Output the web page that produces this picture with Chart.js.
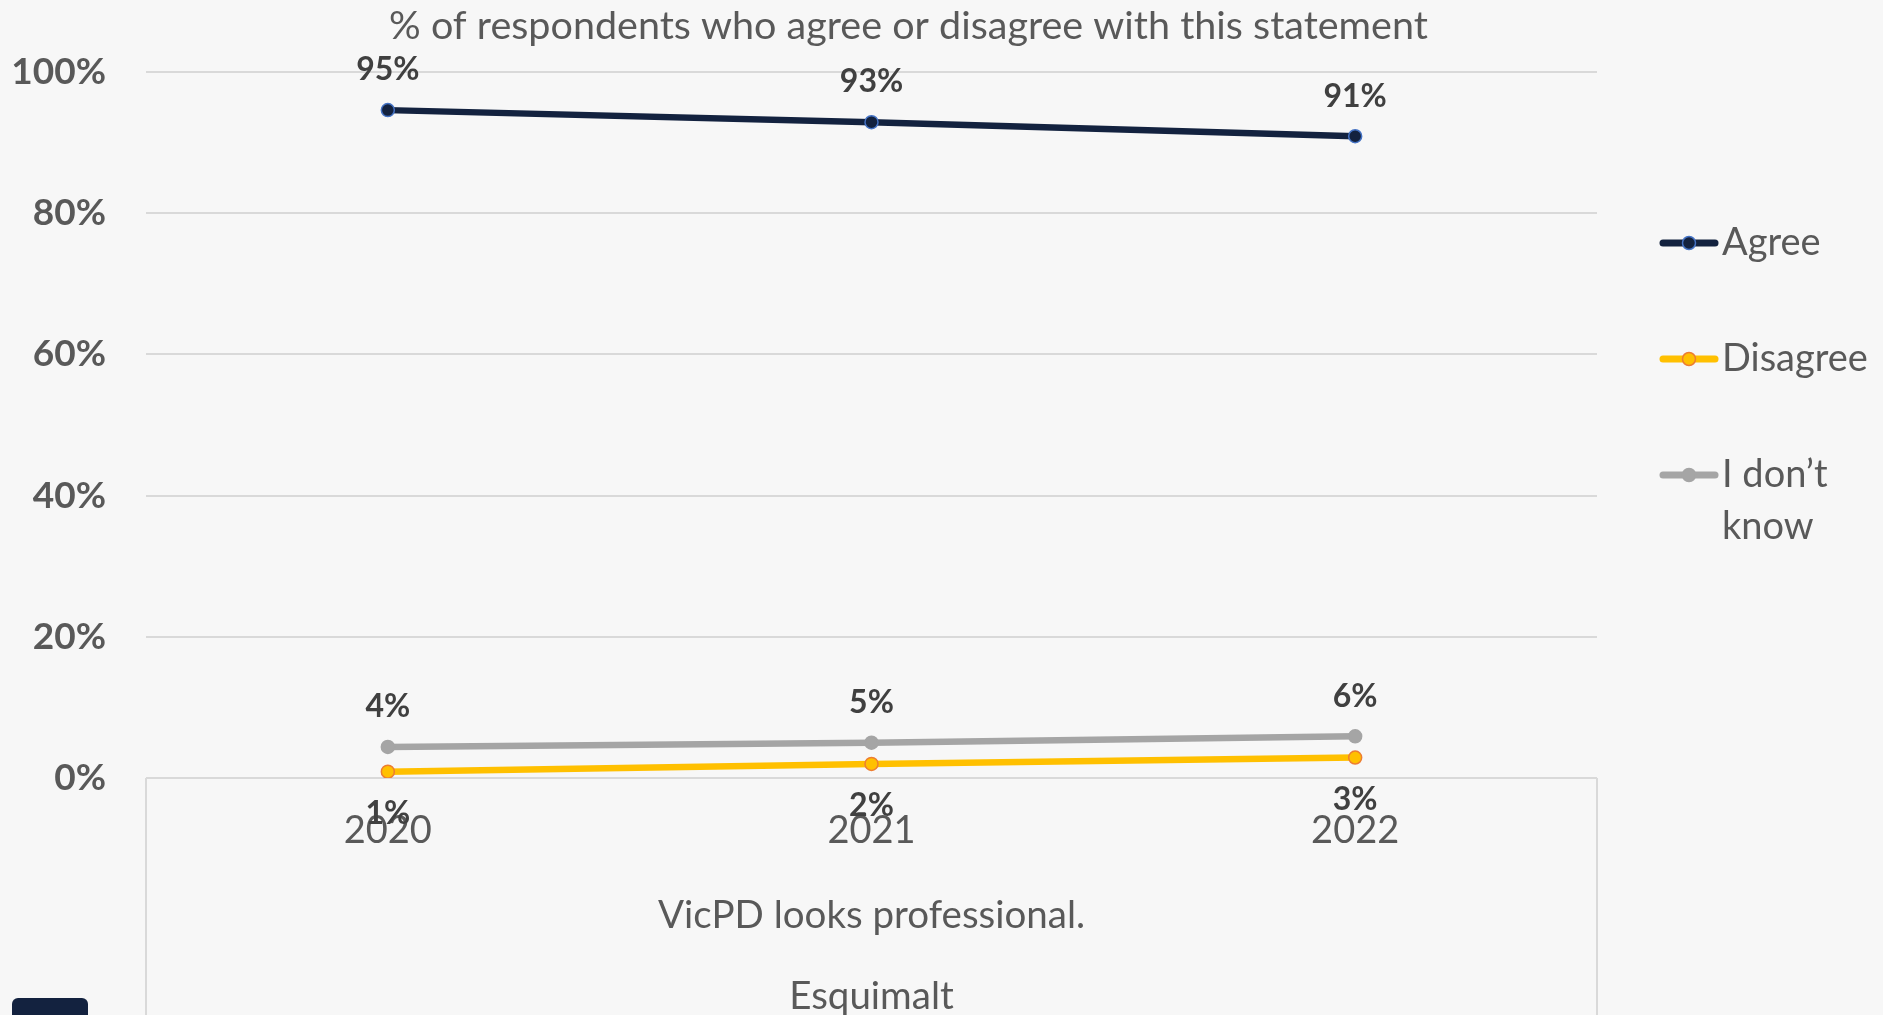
<!DOCTYPE html>
<html>
<head>
<meta charset="utf-8">
<script src="https://cdn.jsdelivr.net/npm/chart.js@4.4.1/dist/chart.umd.min.js"></script>
<style>
  html, body { margin: 0; padding: 0; background: #f7f7f7; overflow: hidden; }
  #wrap { position: relative; width: 1883px; height: 1040px; }
  #badge { position: absolute; left: 12px; top: 998px; width: 76px; height: 40px; background: #13223f; border-radius: 6px; }
</style>
</head>
<body>
<div id="wrap">
  <canvas id="chart" width="1883" height="1040"></canvas>
  <div id="badge"></div>
</div>
<script>
const years = ["2020", "2021", "2022"];
const agree = [94.6, 92.9, 90.9];
const disagree = [0.9, 2.0, 2.9];
const dontKnow = [4.4, 5.0, 5.9];
const seriesNames = ["Agree", "Disagree", "I don\u2019t know"];
const chartTitle = "% of respondents who agree or disagree with this statement";
const axisLines = ["VicPD looks professional.", "Esquimalt"];

const textGrey = "#595959";
const labelGrey = "#404040";
const gridGrey = "#d9d9d9";

// data labels, legend, title and the category group borders
const extras = {
  id: "extras",
  afterDatasetsDraw(chart) {
    const ctx = chart.ctx;
    ctx.save();
    ctx.font = "bold 32px Lato";
    ctx.fillStyle = labelGrey;
    ctx.textAlign = "center";
    ctx.textBaseline = "middle";
    chart.data.datasets.forEach((ds, i) => {
      const meta = chart.getDatasetMeta(i);
      meta.data.forEach((pt, j) => {
        const off = ds.labelBelow ? 42 : -40;
        ctx.fillText(Math.round(ds.data[j]) + "%", pt.x, pt.y + off);
      });
    });
    ctx.restore();
  },
  afterDraw(chart) {
    const ctx = chart.ctx;
    const area = chart.chartArea;
    ctx.save();

    // title
    ctx.font = "39.5px Lato";
    ctx.fillStyle = textGrey;
    ctx.textAlign = "center";
    ctx.textBaseline = "middle";
    ctx.fillText(chartTitle, chart.width / 2 - 33, 26);

    // group borders under the category axis
    ctx.strokeStyle = gridGrey;
    ctx.lineWidth = 2;
    [area.left, area.right].forEach((x) => {
      ctx.beginPath();
      ctx.moveTo(x, area.bottom);
      ctx.lineTo(x, chart.height);
      ctx.stroke();
    });

    // legend
    const lx = area.right + 66;
    const tx = lx + 59;
    const maxW = chart.width - tx - 8;
    let y = area.top + 171;
    ctx.font = "38px Lato";
    ctx.textAlign = "left";
    chart.data.datasets.forEach((ds) => {
      ctx.strokeStyle = ds.borderColor;
      ctx.lineWidth = 7;
      ctx.lineCap = "round";
      ctx.beginPath();
      ctx.moveTo(lx, y);
      ctx.lineTo(lx + 52, y);
      ctx.stroke();
      ctx.beginPath();
      ctx.arc(lx + 26, y, 6.5, 0, Math.PI * 2);
      ctx.fillStyle = ds.pointBackgroundColor;
      ctx.fill();
      ctx.lineWidth = 1.5;
      ctx.strokeStyle = ds.pointBorderColor;
      ctx.stroke();

      // wrap long names
      const words = ds.label.split(" ");
      const lines = [];
      let cur = "";
      words.forEach((w) => {
        const test = cur ? cur + " " + w : w;
        if (cur && ctx.measureText(test).width > maxW) {
          lines.push(cur);
          cur = w;
        } else {
          cur = test;
        }
      });
      lines.push(cur);
      ctx.fillStyle = textGrey;
      lines.forEach((ln, k) => ctx.fillText(ln, tx, y + k * 52));
      y += 116;
    });
    ctx.restore();
  }
};

const ctx = document.getElementById("chart");
const chart = new Chart(ctx, {
  type: "line",
  data: {
    labels: years,
    datasets: [
      {
        label: seriesNames[0],
        data: agree,
        borderColor: "#13223f",
        backgroundColor: "#13223f",
        pointBackgroundColor: "#13223f",
        pointBorderColor: "#4472c4",
        labelBelow: false
      },
      {
        label: seriesNames[1],
        data: disagree,
        borderColor: "#ffc000",
        backgroundColor: "#ffc000",
        pointBackgroundColor: "#ffc000",
        pointBorderColor: "#ed7d31",
        labelBelow: true
      },
      {
        label: seriesNames[2],
        data: dontKnow,
        borderColor: "#a5a5a5",
        backgroundColor: "#a5a5a5",
        pointBackgroundColor: "#a5a5a5",
        pointBorderColor: "#a5a5a5",
        labelBelow: false
      }
    ]
  },
  options: {
    responsive: false,
    animation: false,
    layout: { padding: { left: 12, right: 286, top: 72, bottom: 0 } },
    elements: {
      line: { borderWidth: 6.5, tension: 0 },
      point: { radius: 6.5, borderWidth: 1.5, hoverRadius: 6.5 }
    },
    plugins: {
      legend: { display: false },
      tooltip: { enabled: false },
      title: { display: false }
    },
    scales: {
      x: {
        offset: true,
        afterFit(scale) { scale.height = 262; },
        grid: { display: false },
        border: { display: false },
        ticks: { color: textGrey, font: { family: "Lato", size: 38 }, padding: 22 },
        title: {
          display: true,
          text: axisLines,
          color: textGrey,
          font: { family: "Lato", size: 38.5, lineHeight: 2.1 },
          padding: { top: 0, bottom: 3 }
        }
      },
      y: {
        min: 0,
        max: 100,
        afterFit(scale) { scale.width = 134; },
        ticks: {
          stepSize: 20,
          color: textGrey,
          padding: 40,
          font: { family: "Lato", size: 37, weight: "bold" },
          callback: (v) => v + "%"
        },
        grid: { color: gridGrey, lineWidth: 2, drawTicks: false },
        border: { display: false }
      }
    }
  },
  plugins: [extras]
});
</script>
</body>
</html>
